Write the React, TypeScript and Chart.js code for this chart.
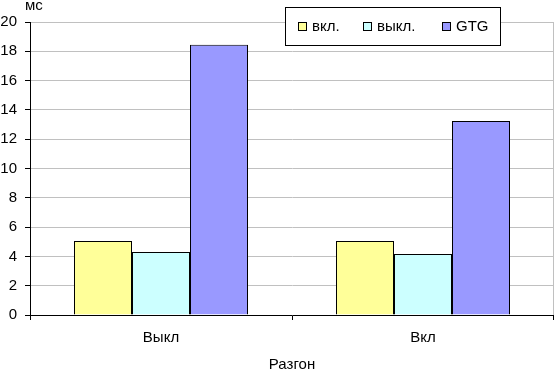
import React, { useEffect, useRef } from "react";
import { Chart, registerables } from "chart.js";

Chart.register(...registerables);

const categories = ["Выкл", "Вкл"];
const seriesNames = ["вкл.", "выкл.", "GTG"];
const seriesOn = [5.05, 5.05];
const seriesOff = [4.3, 4.17];
const seriesGTG = [18.45, 13.25];
const seriesColors = ["#FFFF99", "#CCFFFF", "#9999FF"];
const yUnit = "мс";
const xTitle = "Разгон";

const FONT = "'Liberation Sans', Arial, sans-serif";

const extrasPlugin = {
  id: "extras",
  afterDraw(chart: any) {
    const ctx = chart.ctx as CanvasRenderingContext2D;
    const area = chart.chartArea;
    ctx.save();
    // right border of plot area
    ctx.strokeStyle = "#c0c0c0";
    ctx.lineWidth = 1;
    ctx.beginPath();
    ctx.moveTo(Math.round(area.right) - 0.5, Math.round(area.top));
    ctx.lineTo(Math.round(area.right) - 0.5, Math.round(area.bottom));
    ctx.stroke();
    // right x tick
    ctx.strokeStyle = "#000";
    ctx.beginPath();
    ctx.moveTo(Math.round(area.right) - 0.5, Math.round(area.bottom));
    ctx.lineTo(Math.round(area.right) - 0.5, Math.round(area.bottom) + 5);
    ctx.stroke();
    // unit label
    ctx.fillStyle = "#000";
    ctx.font = `15px ${FONT}`;
    ctx.textAlign = "left";
    ctx.textBaseline = "middle";
    ctx.fillText(yUnit, 25, 6);
    // legend box
    ctx.fillStyle = "#fff";
    ctx.fillRect(285.5, 7.5, 215, 38);
    ctx.strokeStyle = "#000";
    ctx.strokeRect(285.5, 7.5, 215, 38);
    const xs = [298, 363, 442];
    const datasets = chart.data.datasets;
    datasets.forEach((ds: any, i: number) => {
      ctx.fillStyle = ds.backgroundColor;
      ctx.fillRect(xs[i] + 0.5, 22.5, 8, 8);
      ctx.strokeStyle = "#000";
      ctx.strokeRect(xs[i] + 0.5, 22.5, 8, 8);
      ctx.fillStyle = "#000";
      ctx.font = `15px ${FONT}`;
      ctx.textBaseline = "middle";
      ctx.fillText(ds.label, xs[i] + 14, 27);
    });
    ctx.restore();
  },
};

export default function App() {
  const ref = useRef<HTMLCanvasElement>(null);
  useEffect(() => {
    if (!ref.current) return;
    const data = [seriesOn, seriesOff, seriesGTG];
    const chart = new Chart(ref.current, {
      type: "bar",
      data: {
        labels: categories,
        datasets: seriesNames.map((name, i) => ({
          label: name,
          data: data[i],
          backgroundColor: seriesColors[i],
          borderColor: "#000",
          borderWidth: 1,
          categoryPercentage: 174 / 262,
          barPercentage: 1,
        })),
      },
      options: {
        responsive: false,
        animation: false,
        layout: { padding: { top: 22, right: 0, bottom: 0, left: 0 } },
        plugins: {
          legend: { display: false },
          tooltip: { enabled: false },
        },
        scales: {
          x: {
            offset: true,
            grid: {
              display: true,
              offset: true,
              drawOnChartArea: false,
              drawTicks: true,
              tickLength: 5,
              tickColor: "#000",
            },
            border: { display: true, color: "#000", width: 1 },
            ticks: { color: "#000", font: { family: FONT, size: 15 }, padding: 9 },
            title: {
              display: true,
              text: xTitle,
              color: "#000",
              font: { family: FONT, size: 15, lineHeight: 1 },
              padding: { top: 0, bottom: -1 },
            },
            afterFit(scale: any) {
              scale.height = 56;
            },
          },
          y: {
            min: 0,
            max: 20,
            ticks: {
              stepSize: 2,
              color: "#000",
              font: { family: FONT, size: 15 },
              padding: 8,
            },
            grid: {
              color: "#c0c0c0",
              tickColor: "#000",
              tickLength: 5,
            },
            border: { display: true, color: "#000", width: 1 },
            afterFit(scale: any) {
              scale.width = 30;
            },
          },
        },
      },
      plugins: [extrasPlugin],
    });
    return () => chart.destroy();
  }, []);
  return (
    <div style={{ position: "absolute", left: 0, top: 0, width: 554, height: 371, background: "#fff" }}>
      <canvas ref={ref} width={554} height={371} />
    </div>
  );
}
